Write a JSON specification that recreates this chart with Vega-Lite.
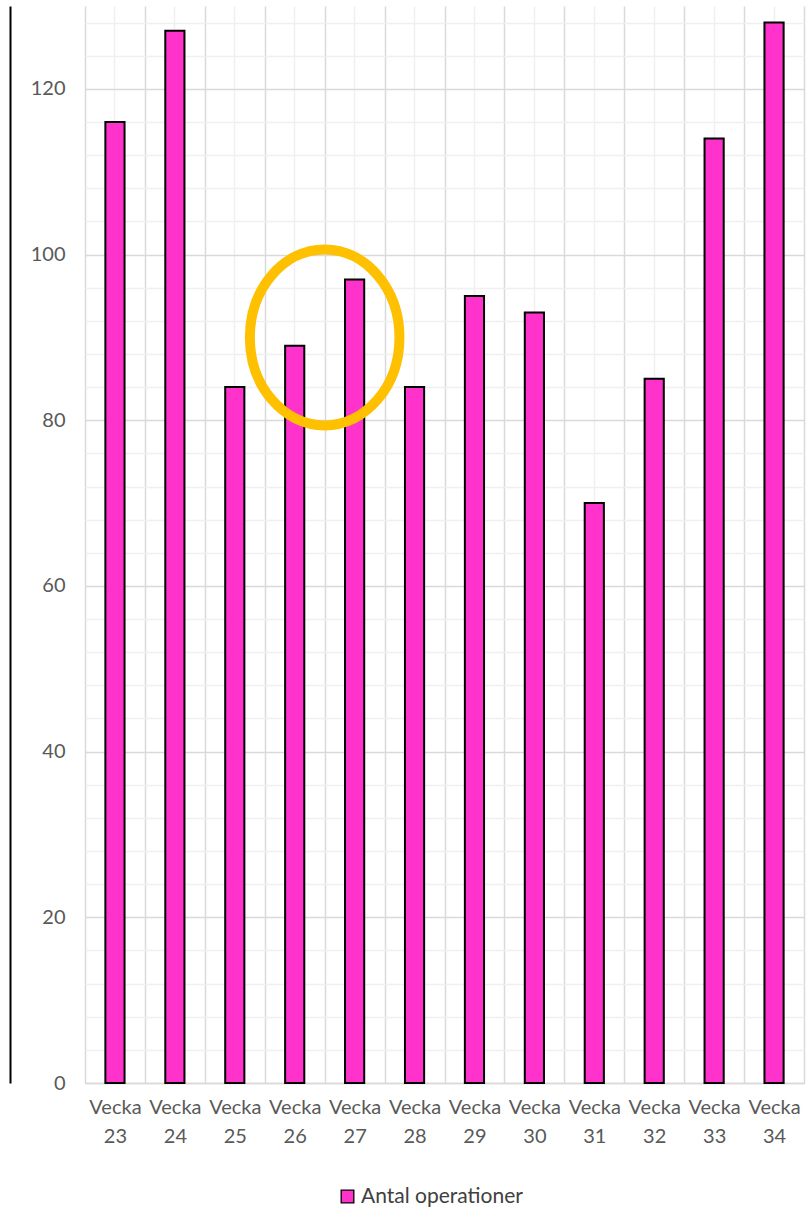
{
  "$schema": "https://vega.github.io/schema/vega-lite/v6.json",
  "width": 719,
  "height": 1077,
  "autosize": {"type": "none"},
  "padding": {"left": 85, "top": 6, "right": 3, "bottom": 129},
  "background": "#ffffff",
  "config": {
    "view": {"stroke": null},
    "font": "Lato",
    "axis": {"labelFont": "Lato", "labelFontSize": 20, "labelColor": "#595959"},
    "legend": {"labelFont": "Lato", "labelFontSize": 21, "labelColor": "#404040", "labelLimit": 400}
  },
  "datasets": {
    "weeks": [
      {"week": "Vecka 23", "value": 116, "series": "Antal operationer"},
      {"week": "Vecka 24", "value": 127, "series": "Antal operationer"},
      {"week": "Vecka 25", "value": 84, "series": "Antal operationer"},
      {"week": "Vecka 26", "value": 89, "series": "Antal operationer"},
      {"week": "Vecka 27", "value": 97, "series": "Antal operationer"},
      {"week": "Vecka 28", "value": 84, "series": "Antal operationer"},
      {"week": "Vecka 29", "value": 95, "series": "Antal operationer"},
      {"week": "Vecka 30", "value": 93, "series": "Antal operationer"},
      {"week": "Vecka 31", "value": 70, "series": "Antal operationer"},
      {"week": "Vecka 32", "value": 85, "series": "Antal operationer"},
      {"week": "Vecka 33", "value": 114, "series": "Antal operationer"},
      {"week": "Vecka 34", "value": 128, "series": "Antal operationer"}
    ],
    "mark": [
      {"week": "Vecka 26", "value": 90}
    ]
  },
  "resolve": {"axis": {"x": "independent", "y": "independent"}},
  "layer": [
    {
      "data": {"name": "weeks"},
      "mark": {"type": "bar", "width": {"band": 0.32}, "stroke": "#000000", "strokeWidth": 2},
      "encoding": {
        "x": {
          "field": "week", "type": "nominal", "sort": null,
          "scale": {"paddingInner": 0, "paddingOuter": 0},
          "axis": {
            "orient": "bottom", "title": null, "labelAngle": 0,
            "labelExpr": "split(datum.label, ' ')",
            "labelLineHeight": 29, "labelPadding": 14,
            "ticks": false, "tickBand": "extent",
            "domain": true, "domainColor": "#D9D9D9", "domainWidth": 1.5,
            "grid": true, "gridColor": "#D9D9D9", "gridWidth": 1.5
          }
        },
        "y": {
          "field": "value", "type": "quantitative",
          "scale": {"domain": [0, 130], "nice": false},
          "axis": {
            "orient": "left", "title": null,
            "values": [0, 20, 40, 60, 80, 100, 120],
            "domain": false, "ticks": false, "labelPadding": 20,
            "grid": true, "gridColor": "#D9D9D9", "gridWidth": 1.5,
            "zindex": 0
          }
        },
        "color": {
          "field": "series", "type": "nominal",
          "scale": {"range": ["#FF33CC"]},
          "legend": {
            "orient": "none", "legendX": 252, "legendY": 1180,
            "title": null, "symbolType": "square",
            "symbolSize": 160, "symbolStrokeColor": "#000000", "symbolStrokeWidth": 1.3,
            "labelOffset": 3, "labelLimit": 400
          }
        }
      }
    },
    {
      "data": {"name": "weeks"},
      "mark": {"type": "point", "opacity": 0},
      "encoding": {
        "x": {
          "field": "week", "type": "nominal", "sort": null,
          "axis": {
            "orient": "bottom", "labels": false, "ticks": false, "domain": false, "title": null,
            "grid": true, "gridColor": "#F0F0F0", "gridWidth": 1.5, "zindex": 0
          }
        },
        "y": {
          "field": "value", "type": "quantitative",
          "axis": {
            "orient": "left", "title": null, "labels": false, "ticks": false,
            "values": [4, 8, 12, 16, 24, 28, 32, 36, 44, 48, 52, 56, 64, 68, 72, 76, 84, 88, 92, 96, 104, 108, 112, 116, 124, 128],
            "grid": true, "gridColor": "#F0F0F0", "gridWidth": 1.5,
            "domain": true, "domainColor": "#000000", "domainWidth": 2, "offset": 75,
            "zindex": 0
          }
        }
      }
    },
    {
      "data": {"name": "mark"},
      "mark": {
        "type": "point",
        "shape": "M -0.85 0 A 0.85 1 0 1 0 0.85 0 A 0.85 1 0 1 0 -0.85 0 Z",
        "filled": false, "stroke": "#FFC000", "strokeWidth": 10, "opacity": 1,
        "size": 30976
      },
      "encoding": {
        "x": {"field": "week", "type": "nominal", "bandPosition": 1, "axis": null},
        "y": {"field": "value", "type": "quantitative", "axis": null}
      }
    }
  ]
}
